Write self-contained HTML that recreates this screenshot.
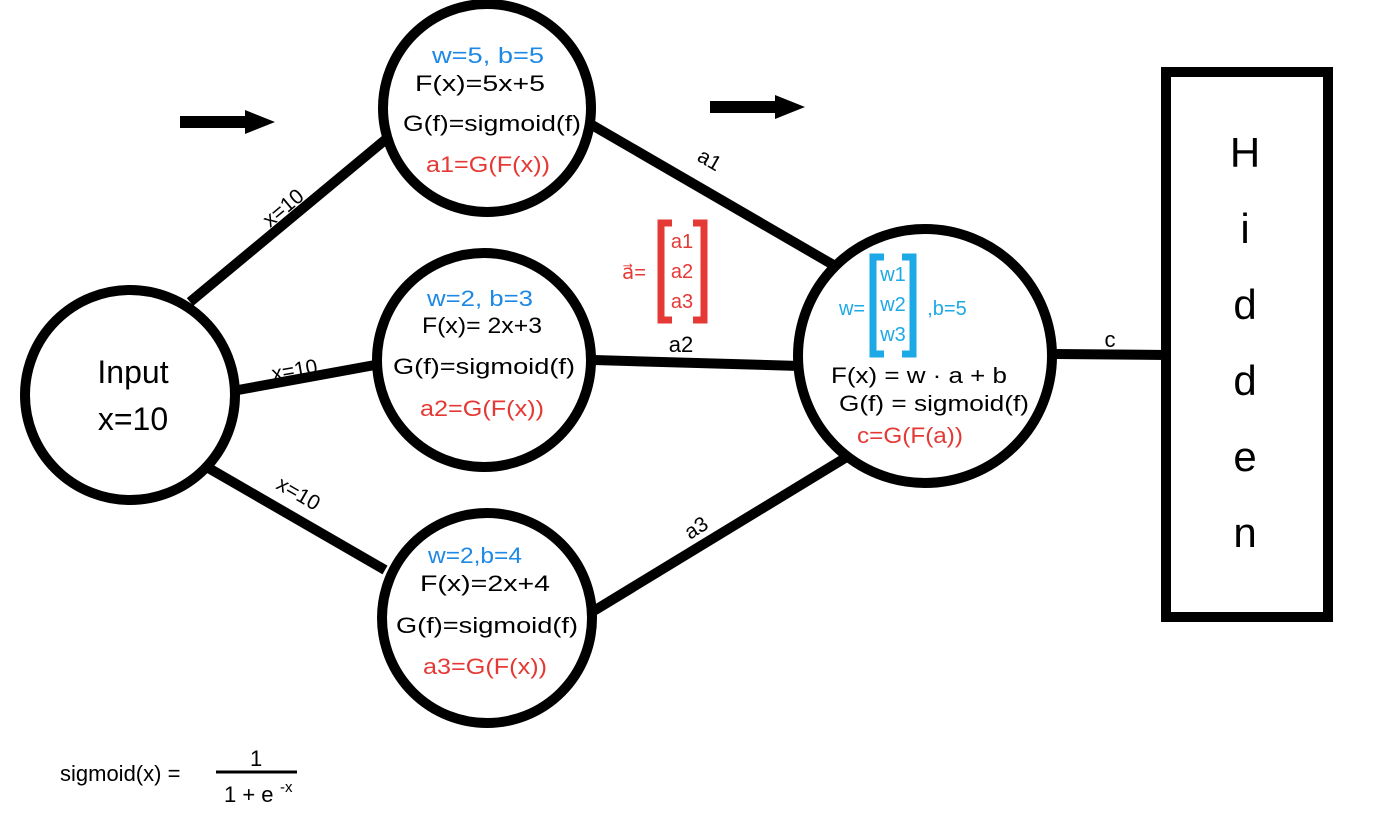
<!DOCTYPE html>
<html><head><meta charset="utf-8"><style>body{margin:0;background:#fff}svg{display:block}text{font-family:"Liberation Sans",sans-serif}</style></head>
<body>
<svg width="1378" height="814" viewBox="0 0 1378 814" xmlns="http://www.w3.org/2000/svg">
<g stroke="#000" stroke-width="10" fill="none">
<line x1="190" y1="302" x2="385" y2="140"/>
<line x1="238" y1="390" x2="375" y2="365"/>
<line x1="205" y1="466" x2="385" y2="570"/>
<line x1="592" y1="125" x2="842" y2="270"/>
<line x1="594" y1="360" x2="800" y2="366"/>
<line x1="592" y1="612" x2="850" y2="455"/>
<line x1="1055" y1="354" x2="1168" y2="355"/>
<circle cx="130" cy="395" r="105" fill="#fff"/>
<circle cx="487" cy="108" r="104" fill="#fff"/>
<circle cx="484" cy="360" r="107" fill="#fff"/>
<circle cx="487" cy="618" r="105" fill="#fff"/>
<circle cx="925" cy="356" r="127" fill="#fff"/>
<rect x="1166" y="72" width="162" height="545" fill="#fff"/>
</g>
<polygon points="180,116 245,116 245,110 275,122 245,134 245,128 180,128" fill="#000"/>
<polygon points="710,101 775,101 775,95 805,107 775,119 775,113 710,113" fill="#000"/>
<g font-size="32" text-anchor="middle">
<text x="133" y="383">Input</text><text x="133" y="430">x=10</text>
</g>
<g font-size="22" text-anchor="middle" lengthAdjust="spacingAndGlyphs">
<text x="488" y="63" fill="#1e88e5" textLength="112" lengthAdjust="spacingAndGlyphs">w=5, b=5</text>
<text x="480" y="91" textLength="130" lengthAdjust="spacingAndGlyphs">F(x)=5x+5</text>
<text x="492" y="131" textLength="178" lengthAdjust="spacingAndGlyphs">G(f)=sigmoid(f)</text>
<text x="488" y="172" fill="#e53935" textLength="124" lengthAdjust="spacingAndGlyphs">a1=G(F(x))</text>
<text x="480" y="306" fill="#1e88e5" textLength="106" lengthAdjust="spacingAndGlyphs">w=2, b=3</text>
<text x="482" y="333" textLength="120" lengthAdjust="spacingAndGlyphs">F(x)= 2x+3</text>
<text x="484" y="374" textLength="182" lengthAdjust="spacingAndGlyphs">G(f)=sigmoid(f)</text>
<text x="482" y="416" fill="#e53935" textLength="124" lengthAdjust="spacingAndGlyphs">a2=G(F(x))</text>
<text x="475" y="563" fill="#1e88e5" textLength="94" lengthAdjust="spacingAndGlyphs">w=2,b=4</text>
<text x="485" y="591" textLength="130" lengthAdjust="spacingAndGlyphs">F(x)=2x+4</text>
<text x="487" y="633" textLength="182" lengthAdjust="spacingAndGlyphs">G(f)=sigmoid(f)</text>
<text x="485" y="674" fill="#e53935" textLength="124" lengthAdjust="spacingAndGlyphs">a3=G(F(x))</text>
<text x="919" y="383" textLength="176" lengthAdjust="spacingAndGlyphs">F(x) = w · a + b</text>
<text x="934" y="411" textLength="190" lengthAdjust="spacingAndGlyphs">G(f) = sigmoid(f)</text>
<text x="910" y="443" fill="#e53935" textLength="106" lengthAdjust="spacingAndGlyphs">c=G(F(a))</text>
<text x="681" y="352">a2</text>
<text x="1110" y="347">c</text>
</g>
<g font-size="21">
<text transform="translate(270,228) rotate(-40)">x=10</text>
<text transform="translate(273,381) rotate(-10)">x=10</text>
<text transform="translate(275,488) rotate(30)">x=10</text>
<text transform="translate(696,160) rotate(30)">a1</text>
<text transform="translate(690,540) rotate(-32)">a3</text>
</g>
<g fill="none" stroke="#e53935" stroke-width="7">
<polyline points="672,223 661,223 661,320 672,320"/>
<polyline points="693,223 704,223 704,320 693,320"/>
</g>
<g font-size="20" fill="#e53935" text-anchor="middle">
<text x="682" y="248">a1</text><text x="682" y="278">a2</text><text x="682" y="308">a3</text>
<text x="634" y="279">a⃗=</text>
</g>
<g fill="none" stroke="#1ca9e6" stroke-width="7">
<polyline points="884,257 873,257 873,354 884,354"/>
<polyline points="902,257 913,257 913,354 902,354"/>
</g>
<g font-size="20" fill="#1ca9e6" text-anchor="middle">
<text x="893" y="281">w1</text><text x="893" y="311">w2</text><text x="893" y="341">w3</text>
<text x="852" y="315">w=</text><text x="947" y="315">,b=5</text>
</g>
<g font-size="42" text-anchor="middle">
<text x="1245" y="167">H</text><text x="1245" y="243">i</text><text x="1245" y="319">d</text>
<text x="1245" y="395">d</text><text x="1245" y="471">e</text><text x="1245" y="547">n</text>
</g>
<g font-size="22">
<text x="60" y="781">sigmoid(x) =</text>
<text x="250" y="766">1</text>
<line x1="216" y1="772" x2="297" y2="772" stroke="#000" stroke-width="3"/>
<text x="224" y="802">1 + e</text><text x="280" y="792" font-size="15">-x</text>
</g>
</svg>
</body></html>
